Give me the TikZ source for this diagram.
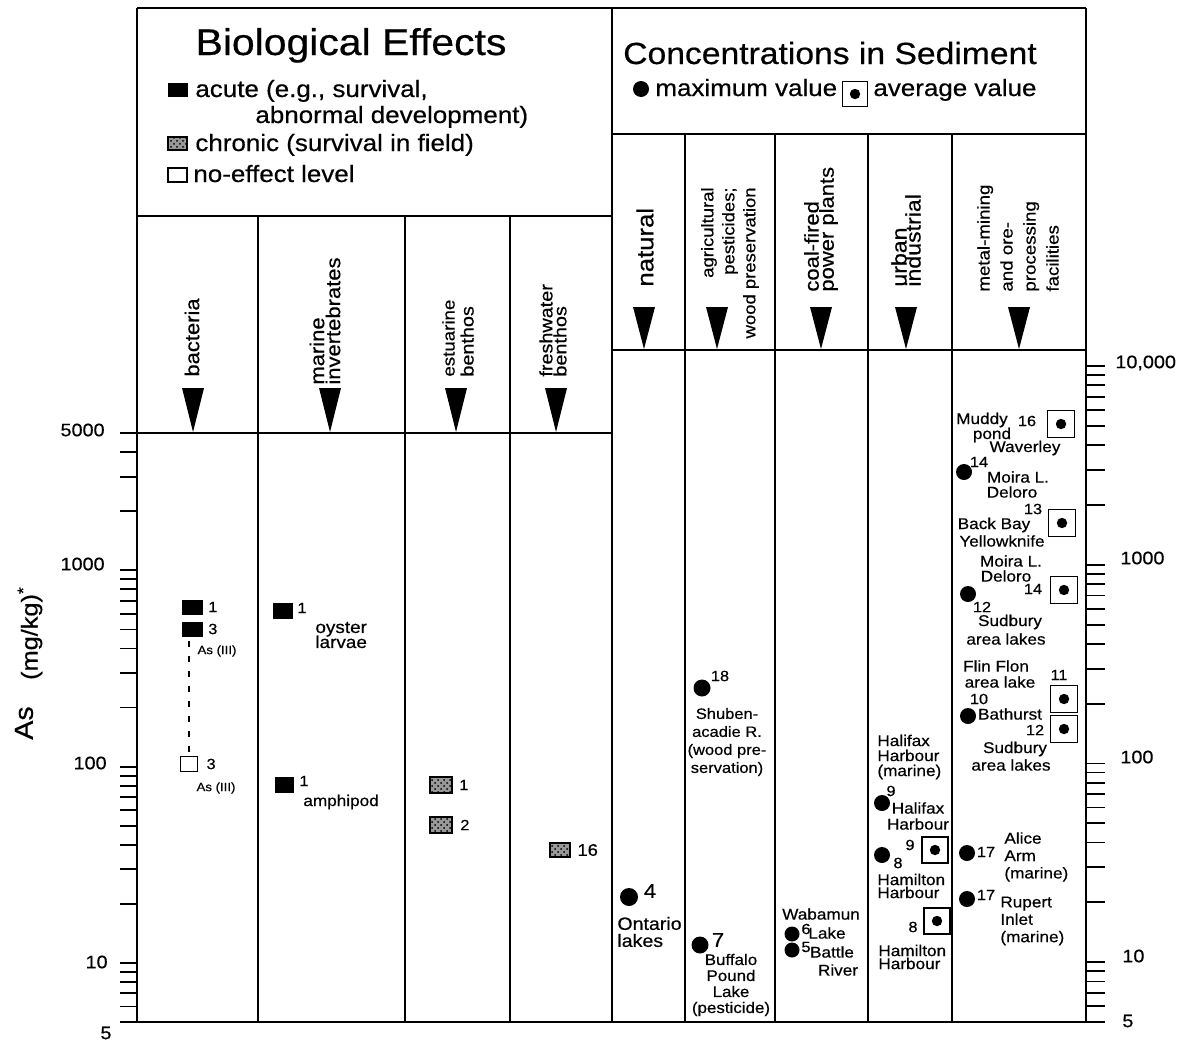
\documentclass[tikz,border=0pt]{standalone}
\usepackage{fontspec}
\setmainfont{Liberation Sans}[FakeStretch=1.1, FakeBold=0.5]
\usepackage{tikz}
\usetikzlibrary{patterns}
\usetikzlibrary{positioning}
\usetikzlibrary{math}
\tikzstyle{frame} = [line width=1.2pt]
\tikzstyle{colline} = [line width=1pt]
\tikzstyle{axtick} = [line width=0.9pt]
\tikzstyle{acute} = [rectangle, fill=black, minimum width=10.5pt, minimum height=7.5pt, inner sep=0pt]
\tikzstyle{chronic} = [rectangle, draw=black, line width=1pt, fill=black!40, minimum width=11pt, minimum height=8pt, inner sep=0pt, path picture={\fill[pattern=crosshatch dots, pattern color=black] (path picture bounding box.south west) rectangle (path picture bounding box.north east);}]
\tikzstyle{noeffect} = [rectangle, draw=black, line width=0.7pt, fill=white, minimum width=8.5pt, minimum height=7.5pt, inner sep=0pt]
\tikzstyle{maxval} = [circle, fill=black, minimum size=8pt, inner sep=0pt]
\tikzstyle{avgval} = [rectangle, draw=black, line width=0.8pt, minimum size=13pt, inner sep=0pt, path picture={\fill (path picture bounding box.center) circle (2.6pt);}]
\tikzstyle{colhead} = [rotate=90, anchor=west, inner sep=0pt, align=left]
\tikzstyle{lab} = [inner sep=0pt, align=center, font=\fontsize{7.8}{7.8}\selectfont]
\tikzstyle{num} = [inner sep=0pt, font=\fontsize{7.4}{7.4}\selectfont]
\tikzstyle{asnote} = [inner sep=0pt, font=\fontsize{6}{6}\selectfont]
\tikzstyle{legtext} = [inner sep=0pt, anchor=base west, font=\fontsize{11.8}{12}\selectfont]
\tikzstyle{axnum} = [inner sep=0pt, font=\fontsize{9}{9}\selectfont]
\lineskiplimit=-20pt

\begin{document}
\begin{tikzpicture}[x=0.5pt, y=-0.5pt,
  declare function={yl(\v)=1022-196.3*log10(\v/5); yr(\v)=1022-198.7*log10(\v/5);}]

  \useasboundingbox (0,0) rectangle (1187,1044);

  % frame and columns
  \draw[frame] (137,8) -- (1086,8);
  \draw[frame] (137,8) -- (137,1022);
  \draw[frame] (612,8) -- (612,1022);
  \draw[frame] (1086,8) -- (1086,1022);
  \draw[frame] (120,1022) -- (1105,1022);
  \draw[frame] (137,216) -- (612,216);
  \draw[frame] (612,134) -- (1086,134);
  \draw[frame] (120,{yl(5000)}) -- (612,{yl(5000)});
  \draw[frame] (612,350) -- (1086,350);
  \foreach \x in {258,405,510} \draw[colline] (\x,216) -- (\x,1022);
  \foreach \x in {685,775,868,952} \draw[colline] (\x,134) -- (\x,1022);

  % pointers
  \foreach \x in {193,330,456,556}
    \fill (\x-11,388) -- (\x+11,388) -- (\x,432) -- cycle;
  \foreach \x in {644,717,821,906,1019}
    \fill (\x-11,307) -- (\x+11,307) -- (\x,349) -- cycle;

  % axes
  \foreach \v in {5,6,7,8,9,10,20,30,40,50,60,70,80,90,100,200,300,400,500,600,700,800,900,1000,2000,3000,4000}
    \draw[axtick] (120,{yl(\v)}) -- (137,{yl(\v)});
  \foreach \v in {5,6,7,8,9,10,20,30,40,50,60,70,80,90,100,200,300,400,500,600,700,800,900,1000,2000,3000,4000,5000,6000,7000,8000,9000,10000}
    \draw[axtick] (1086,{yr(\v)}) -- (1105,{yr(\v)});

  \node[axnum, anchor=east] (l5000) at (105,430) {5000};
  \node[axnum, anchor=east] (l1000) at (105,564) {1000};
  \node[axnum, anchor=east] (l100) at (107,763) {100};
  \node[axnum, anchor=east] (l10) at (108,962) {10};
  \node[axnum] (l5) at (106,1033) {5};
  \node[axnum, anchor=west] (r10000) at (1115,363) {10,000};
  \node[axnum, anchor=west] (r1000) at (1120,558) {1000};
  \node[axnum, anchor=west] (r100) at (1120,757) {100};
  \node[axnum, anchor=west] (r10) at (1122,956) {10};
  \node[axnum, anchor=west] (r5) at (1122,1021) {5};

  \node[rotate=90, inner sep=0pt, font=\fontsize{13}{13}\selectfont] (asname) at (24,723) {As};
  \node[rotate=90, inner sep=0pt, font=\fontsize{11.5}{12}\selectfont] (asunit) at (30,633) {(mg/kg)\textsuperscript{*}};

  % Biological Effects header
  \node[inner sep=0pt, anchor=base, font=\fontsize{18.6}{20}\selectfont] (biotitle) at (351,55) {Biological Effects};
  \node[acute, minimum width=10pt, minimum height=7pt] (legacute) at (178,90) {};
  \node[legtext] (legacutet) at (195,97) {acute (e.g., survival,};
  \node[legtext] (legacutet2) at (255,123) {abnormal development)};
  \node[chronic, minimum width=9.5pt, minimum height=6.5pt] (legchron) at (177.5,143.5) {};
  \node[legtext] (legchront) at (195,151) {chronic (survival in field)};
  \node[noeffect, minimum width=9.5pt, minimum height=7pt] (legnoeff) at (177.5,175) {};
  \node[legtext] (legnoefft) at (193,182) {no-effect level};

  % Concentrations header
  \node[inner sep=0pt, anchor=base, font=\fontsize{15.3}{17}\selectfont] (sedtitle) at (830,64) {Concentrations in Sediment};
  \node[maxval] (legmax) at (641,89) {};
  \node[legtext] (legmaxt) at (655,96) {maximum value};
  \node[avgval, minimum size=12.5pt, line width=0.9pt] (legavg) at (855,94) {};
  \node[legtext] (legavgt) at (873,96) {average value};

  % column heads
  \node[colhead, font=\fontsize{10}{10}\selectfont] (hbact) at (192,377) {bacteria};
  \node[colhead, font=\fontsize{10}{8}\selectfont] (hmarine) at (325,385) {marine\\invertebrates};
  \node[colhead, font=\fontsize{9}{9.5}\selectfont] (hestu) at (458,377) {{\fontsize{8.5}{9.5}\selectfont estuarine}\\benthos};
  \node[colhead, font=\fontsize{9}{7}\selectfont] (hfresh) at (553,377) {freshwater\\benthos};
  \node[colhead, font=\fontsize{11.7}{12}\selectfont] (hnat) at (645,287) {natural};
  \node[colhead, anchor=east, align=right, font=\fontsize{8.4}{10.5}\selectfont] (hagri) at (730,187) {agricultural\\pesticides;\\wood preservation};
  \node[colhead, font=\fontsize{10}{7.5}\selectfont] (hcoal) at (821,292) {coal-fired\\power plants};
  \node[colhead, font=\fontsize{10.5}{7}\selectfont] (hurban) at (906,287) {urban\\industrial};
  \node[colhead, font=\fontsize{8.5}{11.5}\selectfont] (hmetal) at (1018,292) {metal-mining\\and ore-\\processing\\facilities};

  % bacteria
  \node[acute] (bac1) at (192,607) {};
  \node[num, right=2.5pt of bac1] (bac1n) {1};
  \node[acute] (bac3) at (192,629) {};
  \node[num, right=2.5pt of bac3] (bac3n) {3};
  \node[asnote] (bac3as) at (217,651) {As (III)};
  \node[noeffect] (bacne) at (189,764) {};
  \node[num, right=4pt of bacne] (bacnen) {3};
  \node[asnote] (bacneas) at (216,788) {As (III)};
  \draw[line width=0.8pt, dash pattern=on 3pt off 4.5pt] (bacne.north |- bac3.south) ++(0,4) -- (bacne.north);

  % marine invertebrates
  \node[acute, minimum width=10pt, minimum height=8pt] (mar1) at (283,611) {};
  \node[num] (mar1n) at (302,608) {1};
  \node[lab, align=left, anchor=west, font=\fontsize{8.6}{7.5}\selectfont] (oyster) at (315,635) {oyster\\larvae};
  \node[acute, minimum width=9.5pt, minimum height=8pt] (mar2) at (284,785) {};
  \node[num] (mar2n) at (304,781) {1};
  \node[lab, anchor=west] (amphi) at (303,802) {amphipod};

  % estuarine and freshwater benthos
  \node[chronic] (est1) at (441,785) {};
  \node[num, right=3pt of est1] (est1n) {1};
  \node[chronic] (est2) at (441,825) {};
  \node[num, right=3.5pt of est2] (est2n) {2};
  \node[chronic, minimum width=10pt, minimum height=7pt] (fw16) at (560,850) {};
  \node[num, right=3pt of fw16, font=\fontsize{8.4}{8}\selectfont] (fw16n) {16};

  % natural
  \node[maxval, minimum size=9pt] (nat4) at (629,897) {};
  \node[num, font=\fontsize{10}{10}\selectfont] (nat4n) at (650,891) {4};
  \node[lab, align=left, anchor=west, font=\fontsize{8.9}{8.5}\selectfont] (ontario) at (617,932) {Ontario\\lakes};

  % agricultural
  \node[maxval, minimum size=8.5pt] (agr18) at (702,688) {};
  \node[num] (agr18n) at (720,676) {18};
  \node[lab, font=\fontsize{7.5}{9}\selectfont] (shuben) at (727,742) {Shuben-\\acadie R.\\(wood pre-\\servation)};
  \node[maxval, minimum size=8.5pt] (agr7) at (700,945) {};
  \node[num, font=\fontsize{10}{10}\selectfont] (agr7n) at (718,940) {7};
  \node[lab, font=\fontsize{7.7}{8}\selectfont] (buffalo) at (731,985) {Buffalo\\Pound\\Lake\\(pesticide)};

  % coal-fired
  \node[maxval, minimum size=7.5pt] (coal6) at (792,934) {};
  \node[maxval, minimum size=7.5pt] (coal5) at (792,950) {};
  \node[num] (coal6n) at (806,929) {6};
  \node[num] (coal5n) at (806,947) {5};
  \node[lab] (wabamun) at (821,914) {Wabamun};
  \node[lab] (wablake) at (827,933) {Lake};
  \node[lab] (battle) at (832,952) {Battle};
  \node[lab] (river) at (838,970) {River};

  % urban industrial
  \node[lab, align=left, anchor=west, font=\fontsize{7.8}{7.5}\selectfont] (halmar) at (877,757) {Halifax\\Harbour\\(marine)};
  \node[num] (urb9n) at (891,791) {9};
  \node[maxval] (urb9) at (882,803) {};
  \node[lab] (hal1) at (918,808) {Halifax};
  \node[lab] (hal2) at (918,824) {Harbour};
  \node[avgval] (urb9a) at (935,850) {};
  \node[num] (urb9an) at (910,845) {9};
  \node[maxval] (urb8) at (882,855) {};
  \node[num] (urb8n) at (898,863) {8};
  \node[lab, align=left, anchor=west, font=\fontsize{7.8}{6.5}\selectfont] (ham1) at (877,886) {Hamilton\\Harbour};
  \node[avgval] (urb8a) at (937,921) {};
  \node[num] (urb8an) at (913,927) {8};
  \node[lab, align=left, anchor=west, font=\fontsize{7.8}{6.5}\selectfont] (ham2) at (878,957) {Hamilton\\Harbour};

  % metal-mining
  \node[avgval, minimum size=13.5pt] (met16a) at (1061,424) {};
  \node[lab] (muddy) at (982,420) {Muddy};
  \node[num] (met16n) at (1027,421) {16};
  \node[lab] (pond) at (992,435) {pond};
  \node[lab] (waverley) at (1025,448) {Waverley};
  \node[maxval] (met14) at (964,472) {};
  \node[num] (met14n) at (979,462) {14};
  \node[lab] (moira1) at (1018,477) {Moira L.};
  \node[lab] (deloro1) at (1012,492) {Deloro};
  \node[num] (met13n) at (1033,509) {13};
  \node[lab] (backbay) at (994,525) {Back Bay};
  \node[lab] (yellow) at (1002,541) {Yellowknife};
  \node[avgval, minimum size=13.5pt] (met13a) at (1062,523) {};
  \node[lab] (moira2) at (1011,561) {Moira L.};
  \node[lab] (deloro2) at (1006,576) {Deloro};
  \node[num] (met14an) at (1033,589) {14};
  \node[avgval, minimum size=13.5pt] (met14a) at (1064,590) {};
  \node[maxval] (met12) at (968,594) {};
  \node[num] (met12n) at (982,607) {12};
  \node[lab] (sud1) at (1010,622) {Sudbury};
  \node[lab] (area1) at (1006,639) {area lakes};
  \node[lab] (flin) at (996,666) {Flin Flon};
  \node[lab] (flinlake) at (1000,682) {area lake};
  \node[num] (met11n) at (1059,675) {11};
  \node[avgval, minimum size=13.5pt] (met11a) at (1064,699) {};
  \node[num] (met10n) at (979,699) {10};
  \node[maxval] (met10) at (968,716) {};
  \node[lab] (bathurst) at (1010,714) {Bathurst};
  \node[num] (met12an) at (1035,730) {12};
  \node[avgval, minimum size=13.5pt] (met12a) at (1064,729) {};
  \node[lab] (sud2) at (1015,749) {Sudbury};
  \node[lab] (area2) at (1011,765) {area lakes};
  \node[maxval] (met17) at (967,853) {};
  \node[num] (met17n) at (986,852) {17};
  \node[lab, align=left, anchor=west, font=\fontsize{7.8}{8.7}\selectfont] (alice) at (1004,857) {Alice\\Arm\\(marine)};
  \node[maxval] (met17b) at (967,899) {};
  \node[num] (met17bn) at (986,895) {17};
  \node[lab, align=left, anchor=west, font=\fontsize{7.8}{8.7}\selectfont] (rupert) at (1000,921) {Rupert\\Inlet\\(marine)};

\end{tikzpicture}
\end{document}
